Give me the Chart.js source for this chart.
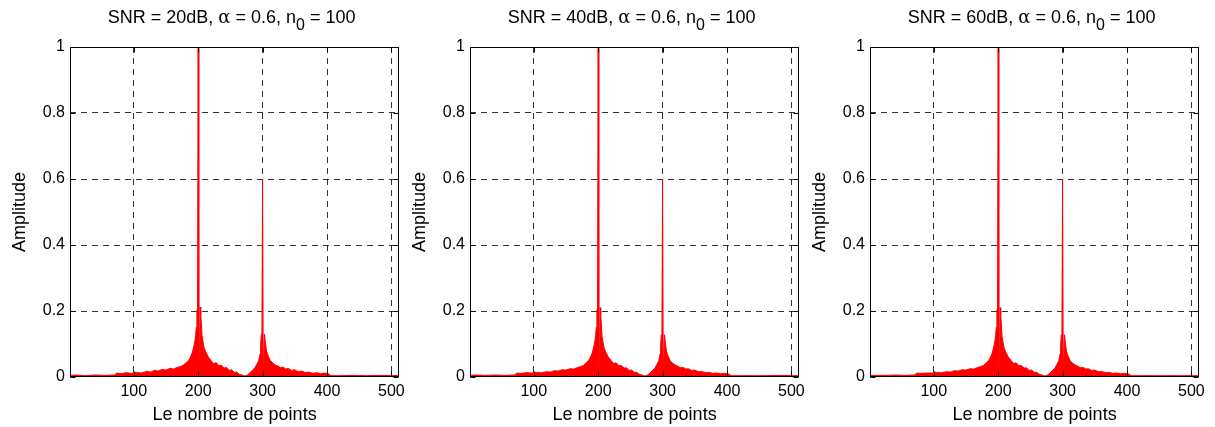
<!DOCTYPE html>
<html>
<head>
<meta charset="utf-8">
<script src="https://cdn.jsdelivr.net/npm/chart.js@4/dist/chart.umd.min.js"></script>
<style>
  body { margin: 0; background: #fff; width: 1215px; height: 427px; position: relative; overflow: hidden; }
  canvas { position: absolute; top: 0; }
</style>
</head>
<body>
<canvas id="c1" width="410" height="427" style="left:0px"></canvas>
<canvas id="c2" width="410" height="427" style="left:400px"></canvas>
<canvas id="c3" width="410" height="427" style="left:800px"></canvas>
<script>
// sample index (le nombre de points)
const points = [1, 10, 25, 40, 55, 70, 74, 80, 88, 96, 104, 112, 120, 126, 132, 138, 144, 150, 156, 162,
  167, 172, 177, 181, 185, 188, 191, 193, 195, 196, 197, 198, 199, 200, 201, 202, 203, 204, 206, 209,
  212, 216, 220, 224, 228, 232, 236, 240, 244, 248, 252, 256, 260, 264, 268, 272, 276, 280, 284, 288,
  291, 294, 296, 297, 298, 299, 300, 301, 302, 303, 304, 306, 309, 312, 316, 320, 324, 328, 332, 336,
  340, 345, 350, 355, 360, 366, 372, 378, 384, 390, 396, 400, 403, 406, 420, 440, 460, 480, 500, 512];

const amp20 = [0.005, 0.006, 0.004, 0.006, 0.005, 0.006, 0.012, 0.010, 0.013, 0.011, 0.014, 0.012, 0.017, 0.015, 0.020, 0.018, 0.023, 0.021, 0.026, 0.024,
  0.029, 0.031, 0.036, 0.043, 0.050, 0.060, 0.075, 0.090, 0.110, 0.125, 0.150, 0.200, 0.210, 1.000, 0.000, 0.000, 0.212, 0.190,
  0.125, 0.090, 0.075, 0.060, 0.050, 0.040, 0.044, 0.034, 0.036, 0.027, 0.029, 0.020, 0.022, 0.014, 0.015, 0.008, 0.006, 0.003,
  0.005, 0.012, 0.020, 0.028, 0.038, 0.050, 0.070, 0.095, 0.130, 0.135, 0.600, 0.000, 0.000, 0.130, 0.110, 0.080, 0.062, 0.050,
  0.042, 0.036, 0.033, 0.028, 0.030, 0.024, 0.026, 0.020, 0.022, 0.016, 0.018, 0.014, 0.015, 0.011, 0.013, 0.010, 0.012, 0.011,
  0.009, 0.004, 0.004, 0.005, 0.004, 0.005, 0.004, 0.005];

const amp40 = [0.005, 0.006, 0.005, 0.006, 0.005, 0.006, 0.012, 0.011, 0.013, 0.012, 0.014, 0.013, 0.016, 0.015, 0.019, 0.018, 0.022, 0.021, 0.025, 0.024,
  0.028, 0.031, 0.035, 0.042, 0.050, 0.060, 0.074, 0.090, 0.110, 0.125, 0.150, 0.200, 0.210, 1.000, 0.000, 0.000, 0.210, 0.190,
  0.122, 0.090, 0.074, 0.060, 0.050, 0.041, 0.043, 0.034, 0.035, 0.027, 0.028, 0.020, 0.021, 0.014, 0.014, 0.008, 0.006, 0.003,
  0.005, 0.011, 0.019, 0.027, 0.037, 0.049, 0.070, 0.094, 0.128, 0.132, 0.600, 0.000, 0.000, 0.128, 0.108, 0.079, 0.061, 0.049,
  0.041, 0.036, 0.032, 0.028, 0.029, 0.024, 0.025, 0.020, 0.021, 0.016, 0.017, 0.014, 0.014, 0.011, 0.012, 0.010, 0.011, 0.010,
  0.009, 0.004, 0.004, 0.004, 0.004, 0.005, 0.004, 0.004];

const amp60 = [0.005, 0.005, 0.005, 0.006, 0.005, 0.006, 0.012, 0.011, 0.012, 0.012, 0.014, 0.013, 0.016, 0.015, 0.019, 0.018, 0.022, 0.021, 0.025, 0.024,
  0.028, 0.031, 0.035, 0.042, 0.049, 0.060, 0.074, 0.090, 0.110, 0.125, 0.150, 0.200, 0.210, 1.000, 0.000, 0.000, 0.210, 0.190,
  0.122, 0.090, 0.074, 0.060, 0.050, 0.041, 0.043, 0.034, 0.035, 0.027, 0.028, 0.020, 0.021, 0.014, 0.014, 0.008, 0.006, 0.003,
  0.005, 0.011, 0.019, 0.027, 0.037, 0.049, 0.070, 0.094, 0.128, 0.132, 0.600, 0.000, 0.000, 0.128, 0.108, 0.079, 0.061, 0.049,
  0.041, 0.036, 0.032, 0.028, 0.029, 0.024, 0.025, 0.020, 0.021, 0.016, 0.017, 0.014, 0.014, 0.011, 0.012, 0.010, 0.011, 0.010,
  0.009, 0.004, 0.004, 0.004, 0.004, 0.004, 0.004, 0.004];

const snrLabels = ["20dB", "40dB", "60dB"];
const xTickValues = [100, 200, 300, 400, 500];
const yTickValues = [0, 0.2, 0.4, 0.6, 0.8, 1];

const FONT = "'Liberation Sans', Arial, sans-serif";

// box around the axes, small inner ticks and the title with alpha and subscript
const framePlugin = {
  id: "frame",
  afterDraw(chart, args, opts) {
    const { ctx, chartArea: a, scales } = chart;
    const l = Math.round(a.left) + 0.5, r = Math.round(a.right) - 0.5;
    const t = Math.round(a.top) + 0.5, b = Math.round(a.bottom) - 0.5;
    ctx.save();
    ctx.strokeStyle = "#000";
    ctx.lineWidth = 1;
    ctx.setLineDash([]);
    ctx.strokeRect(l, t, r - l, b - t);
    ctx.beginPath();
    xTickValues.forEach(v => {
      const px = Math.round(scales.x.getPixelForValue(v)) + 0.5;
      ctx.moveTo(px, t); ctx.lineTo(px, t + 5);
      ctx.moveTo(px, b); ctx.lineTo(px, b - 5);
    });
    yTickValues.forEach(v => {
      const py = Math.round(scales.y.getPixelForValue(v)) + 0.5;
      ctx.moveTo(l, py); ctx.lineTo(l + 5, py);
      ctx.moveTo(r, py); ctx.lineTo(r - 5, py);
    });
    ctx.stroke();

    // title
    const parts = [
      { text: "SNR = " + opts.snr + ", ", font: "18px " + FONT, dy: 0 },
      { text: "\u03b1", font: "18px 'DejaVu Serif', 'Liberation Serif', serif", dy: 0 },
      { text: " = 0.6, n", font: "18px " + FONT, dy: 0 },
      { text: "0", font: "16px " + FONT, dy: 7 },
      { text: " = 100", font: "18px " + FONT, dy: 0 }
    ];
    let total = 0;
    parts.forEach(p => { ctx.font = p.font; p.w = ctx.measureText(p.text).width; total += p.w; });
    let x = (a.left + a.right) / 2 - 3 - total / 2;
    ctx.fillStyle = "#000";
    ctx.textBaseline = "alphabetic";
    ctx.textAlign = "left";
    parts.forEach(p => {
      ctx.font = p.font;
      ctx.fillText(p.text, x, 23 + p.dy);
      x += p.w;
    });
    ctx.restore();
  }
};

function makeChart(id, values, snr) {
  return new Chart(document.getElementById(id), {
    type: "line",
    data: {
      datasets: [{
        data: points.map((p, i) => ({ x: p, y: values[i] })),
        borderColor: "#ff0000",
        backgroundColor: "#ff0000",
        borderWidth: 1,
        fill: "origin",
        pointRadius: 0,
        tension: 0
      }]
    },
    options: {
      responsive: false,
      animation: false,
      devicePixelRatio: 1,
      layout: { padding: { left: 0, right: 10, top: 47, bottom: 0 } },
      plugins: {
        legend: { display: false },
        tooltip: { enabled: false },
        frame: { snr: snr }
      },
      scales: {
        x: {
          type: "linear",
          min: 1,
          max: 512,
          z: 1,
          afterBuildTicks: s => { s.ticks = xTickValues.map(v => ({ value: v })); },
          afterFit: s => { s.height = 50; },
          ticks: { color: "#000", font: { family: FONT, size: 16 }, padding: 5, maxRotation: 0 },
          grid: { color: "rgba(0,0,0,0.8)", lineWidth: 1, drawTicks: false },
          border: { display: false, dash: [6, 5] },
          title: { display: true, text: "Le nombre de points", color: "#000", font: { family: FONT, size: 18 }, padding: { top: 0, bottom: 1 } }
        },
        y: {
          min: 0,
          max: 1,
          z: 1,
          afterBuildTicks: s => { s.ticks = yTickValues.map(v => ({ value: v })); },
          afterFit: s => { s.width = 70; },
          ticks: { color: "#000", font: { family: FONT, size: 16 }, padding: 5, callback: v => String(v) },
          grid: {
            color: c => (c.tick && (c.tick.value === 0 || c.tick.value === 1)) ? "rgba(0,0,0,0)" : "rgba(0,0,0,0.8)",
            lineWidth: 1,
            drawTicks: false
          },
          border: { display: false, dash: [6, 5] },
          title: { display: true, text: "Amplitude", color: "#000", font: { family: FONT, size: 18 }, padding: { top: 9, bottom: 0 } }
        }
      }
    },
    plugins: [framePlugin]
  });
}

makeChart("c1", amp20, snrLabels[0]);
makeChart("c2", amp40, snrLabels[1]);
makeChart("c3", amp60, snrLabels[2]);
</script>
</body>
</html>
